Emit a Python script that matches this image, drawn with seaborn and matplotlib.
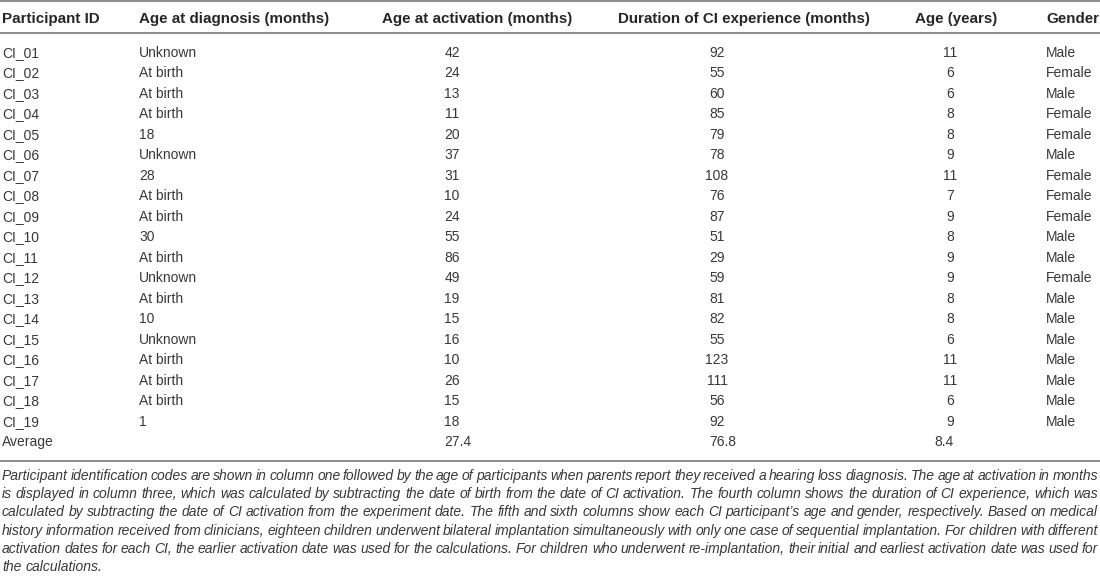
import math
import matplotlib
matplotlib.use("Agg")
import matplotlib.pyplot as plt
import seaborn as sns

# ---------------- data ----------------
headers = ["Participant ID", "Age at diagnosis (months)", "Age at activation (months)",
           "Duration of CI experience (months)", "Age (years)", "Gender"]
participant_ids = ["CI_01", "CI_02", "CI_03", "CI_04", "CI_05", "CI_06", "CI_07", "CI_08",
                   "CI_09", "CI_10", "CI_11", "CI_12", "CI_13", "CI_14", "CI_15", "CI_16",
                   "CI_17", "CI_18", "CI_19"]
age_at_diagnosis = ["Unknown", "At birth", "At birth", "At birth", "18", "Unknown", "28",
                    "At birth", "At birth", "30", "At birth", "Unknown", "At birth", "10",
                    "Unknown", "At birth", "At birth", "At birth", "1"]
age_at_activation = [42, 24, 13, 11, 20, 37, 31, 10, 24, 55, 86, 49, 19, 15, 16, 10, 26, 15, 18]
duration_ci = [92, 55, 60, 85, 79, 78, 108, 76, 87, 51, 29, 59, 81, 82, 55, 123, 111, 56, 92]
age_years = [11, 6, 6, 8, 8, 9, 11, 7, 9, 8, 9, 9, 8, 8, 6, 11, 11, 6, 9]
gender = ["Male", "Female", "Male", "Female", "Female", "Male", "Female", "Female", "Female",
          "Male", "Male", "Female", "Male", "Male", "Male", "Male", "Male", "Male", "Male"]
average_label = "Average"
average_values = ["27.4", "76.8", "8.4"]
caption_lines = [
    "Participant identification codes are shown in column one followed by the age of participants when parents report they received a hearing loss diagnosis. The age at activation in months",
    "is displayed in column three, which was calculated by subtracting the date of birth from the date of CI activation. The fourth column shows the duration of CI experience, which was",
    "calculated by subtracting the date of CI activation from the experiment date. The fifth and sixth columns show each CI participant\u2019s age and gender, respectively. Based on medical",
    "history information received from clinicians, eighteen children underwent bilateral implantation simultaneously with only one case of sequential implantation. For children with different",
    "activation dates for each CI, the earlier activation date was used for the calculations. For children who underwent re-implantation, their initial and earliest activation date was used for",
    "the calculations.",
]

# ---------------- style ----------------
sns.set_theme(style="white")
plt.rcParams["font.family"] = ["Liberation Sans", "DejaVu Sans"]

W, H = 1100, 577
fig = plt.figure(figsize=(W / 100, H / 100), dpi=100)
ax = fig.add_axes([0, 0, 1, 1])
ax.set_xlim(0, W)
ax.set_ylim(H, 0)
ax.axis("off")

body_color = "#383838"
head_color = "#262626"
rule_color = "#6e6e6e"
body_fs = 10.0
head_fs = 10.9
cap_fs = 10.0

digit_w = 0.556 * body_fs * 100 / 72  # width of one digit in px


def snap(v):
    """Keep text baselines on whole pixels so every word of a row sits on one line."""
    return math.floor(v) + 0.25


# column layout
col_head_x = [2, 139, 382, 618, 915, 1046]
col_text_left = {0: 2, 1: 139, 5: 1046}
col_num_center = {2: 452, 3: 717, 4: 950}

header_base = 23
row_base0 = 57
row_dy = 20.5

# rules
for y in (1, 33, 461):
    ax.plot([0, W], [y, y], color=rule_color, lw=1.1, solid_capstyle="butt")

# header
for x, h in zip(col_head_x, headers):
    ax.text(x, snap(header_base), h, ha="left", va="baseline", fontsize=head_fs,
            fontweight="bold", color=head_color)


def body_text(x, y, s, ha):
    ax.text(x, snap(y), s, ha=ha, va="baseline", fontsize=body_fs, color=body_color)


# body rows
for i in range(len(participant_ids)):
    yb = row_base0 + i * row_dy
    body_text(col_text_left[0], yb, participant_ids[i], "left")
    body_text(col_text_left[1], yb, age_at_diagnosis[i], "left")
    for c, v in ((2, age_at_activation[i]), (3, duration_ci[i]), (4, age_years[i])):
        body_text(col_num_center[c], yb, str(v), "center")
    body_text(col_text_left[5], yb, gender[i], "left")

# average row (integer part aligned with the column's numbers)
yb = row_base0 + len(participant_ids) * row_dy
body_text(col_text_left[0], yb, average_label, "left")
body_text(col_num_center[2] - digit_w, yb, average_values[0], "left")
body_text(col_num_center[3] - digit_w, yb, average_values[1], "left")
body_text(col_num_center[4] + digit_w / 2, yb, average_values[2], "right")

# caption: justified italic lines
cap_base0 = 480.5
cap_dy = 18.2
left, right = 2, 1098
word_objs = []
for li, line in enumerate(caption_lines):
    words = line.split(" ")
    yb = snap(cap_base0 + li * cap_dy)
    objs = [ax.text(0, yb, w, ha="left", va="baseline", fontsize=cap_fs,
                    fontstyle="italic", color=body_color) for w in words]
    word_objs.append(objs)

fig.canvas.draw()
renderer = fig.canvas.get_renderer()
sp = ax.text(0, 0, "a a", fontsize=cap_fs, fontstyle="italic")
aa = ax.text(0, 0, "aa", fontsize=cap_fs, fontstyle="italic")
space_w = sp.get_window_extent(renderer).width - aa.get_window_extent(renderer).width
sp.remove()
aa.remove()
for li, objs in enumerate(word_objs):
    widths = [o.get_window_extent(renderer).width for o in objs]
    last = li == len(word_objs) - 1
    if last or len(objs) == 1:
        gap = space_w
    else:
        gap = (right - left - sum(widths)) / (len(objs) - 1)
    x = left
    for o, w in zip(objs, widths):
        o.set_x(x)
        x += w + gap

fig.savefig("out.png", dpi=100, facecolor="white")
